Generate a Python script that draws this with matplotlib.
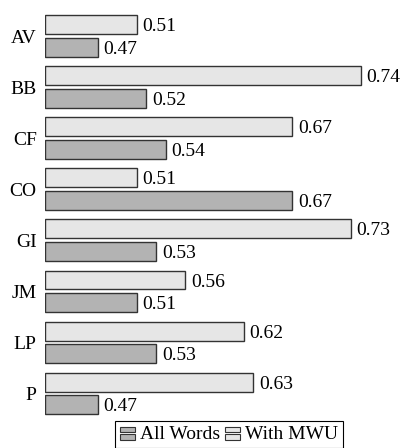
import matplotlib
matplotlib.use("Agg")
import matplotlib.pyplot as plt
from matplotlib.patches import Rectangle
from matplotlib.legend_handler import HandlerBase
import numpy as np

categories = ["AV", "BB", "CF", "CO", "GI", "JM", "LP", "P"]
with_mwu = [0.51, 0.74, 0.67, 0.51, 0.73, 0.56, 0.62, 0.63]   # light bars (top)
all_words = [0.47, 0.52, 0.54, 0.67, 0.53, 0.51, 0.53, 0.47]  # dark bars (bottom)

LIGHT = "#e6e6e6"
DARK = "#b3b3b3"
EDGE = "#333333"

plt.rcParams['font.family'] = ['Liberation Serif', 'DejaVu Serif']
FS = 14

fig = plt.figure(figsize=(4.02, 4.48), dpi=100)
ax = fig.add_axes([45/402, 29/448, 357/402, 408.5/448])

y = np.arange(len(categories))
h = 0.37
off = 0.222
base = 0.416
ax.barh(y - off, np.array(with_mwu) - base, left=base, height=h,
        color=LIGHT, edgecolor=EDGE, linewidth=1.0)
ax.barh(y + off, np.array(all_words) - base, left=base, height=h,
        color=DARK, edgecolor=EDGE, linewidth=1.0)

for yi, v in zip(y - off, with_mwu):
    ax.text(v + 0.006, yi + 0.04, f"{v:.2f}", va="center", ha="left", fontsize=FS)
for yi, v in zip(y + off, all_words):
    ax.text(v + 0.006, yi + 0.04, f"{v:.2f}", va="center", ha="left", fontsize=FS)

ax.set_xlim(base, base + 357/973.9)
ax.set_ylim(len(categories) - 0.5, -0.5)
ax.set_yticks(y)
ax.set_yticklabels(categories, fontsize=FS)
ax.tick_params(axis="y", length=0, pad=6)
ax.set_xticks([])
for s in ax.spines.values():
    s.set_visible(False)


class StackHandler(HandlerBase):
    def __init__(self, color):
        super().__init__()
        self.color = color

    def create_artists(self, legend, orig_handle, xdescent, ydescent,
                       width, height, fontsize, trans):
        w = width
        hh = height * 0.40
        r1 = Rectangle((-xdescent, -ydescent + height * 0.55), w, hh,
                       facecolor=self.color, edgecolor=EDGE, linewidth=0.8,
                       transform=trans)
        r2 = Rectangle((-xdescent, -ydescent - height * 0.02), w, hh,
                       facecolor=self.color, edgecolor=EDGE, linewidth=0.8,
                       transform=trans)
        return [r1, r2]


h1 = Rectangle((0, 0), 1, 1)
h2 = Rectangle((0, 0), 1, 1)
leg = fig.legend([h1, h2], ["All Words", "With MWU"],
                 handler_map={h1: StackHandler(DARK), h2: StackHandler(LIGHT)},
                 loc="upper center", bbox_to_anchor=(229/402, 1 - 421/448),
                 ncol=2, fontsize=FS, frameon=True, fancybox=False,
                 framealpha=1, edgecolor="black", handlelength=0.75,
                 handletextpad=0.25, columnspacing=0.3, borderpad=0.25,
                 borderaxespad=0)
leg.get_frame().set_linewidth(0.8)

fig.savefig("out.png", dpi=100)
